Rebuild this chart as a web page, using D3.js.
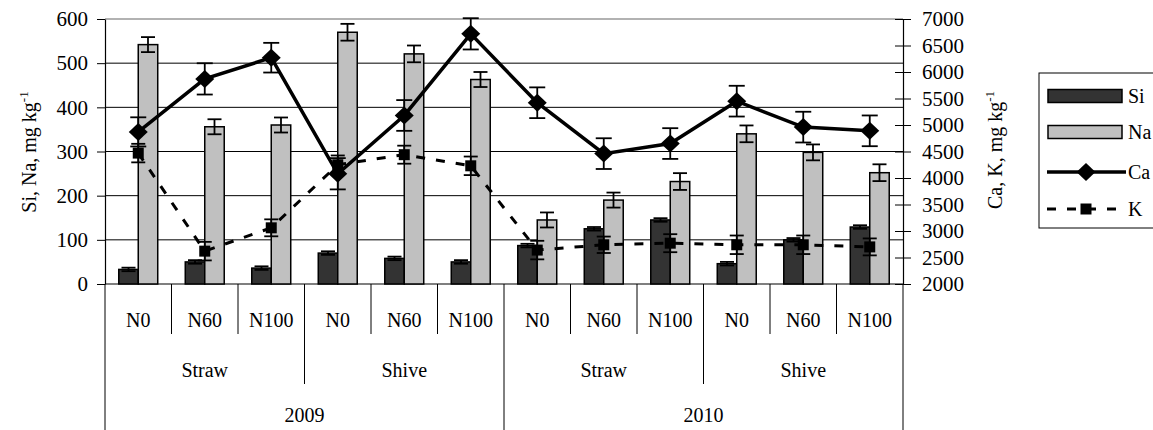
<!DOCTYPE html>
<html><head><meta charset="utf-8">
<script src="https://cdn.jsdelivr.net/npm/d3@7"></script>
<style>
body{margin:0;background:#fff}
svg text{fill:#000}
</style>
</head><body>
<svg id="c" width="1153" height="430"></svg>
<script>
const categories = ["N0","N60","N100","N0","N60","N100","N0","N60","N100","N0","N60","N100"];
const groups = ["Straw","Shive","Straw","Shive"];
const years = ["2009","2010"];
const si    = [33,50,36,70,58,50,87,125,145,46,100,129];
const siErr = [4,4,4,4,4,4,4,4,4,4,4,4];
const na    = [542,356,360,570,521,463,145,190,232,340,298,252];
const naErr = [17,17,17,19,19,17,17,17,19,19,18,19];
const ca    = [4870,5870,6270,4080,5180,6720,5420,4460,4650,5450,4960,4890];
const caErr = [275,295,280,295,290,295,290,290,290,290,290,290];
const k     = [4470,2620,3060,4250,4440,4230,2640,2740,2770,2740,2740,2700];
const kErr  = [175,175,160,175,170,175,175,155,170,175,175,160];
const leftTicks = [0,100,200,300,400,500,600];
const rightTicks = [2000,2500,3000,3500,4000,4500,5000,5500,6000,6500,7000];
const seriesNames = ["Si","Na","Ca","K"];

const FONT = "'Liberation Serif', 'Times New Roman', 'DejaVu Serif', serif";
const svg = d3.select("#c");
const L = 105, R = 903, T = 19, B = 284;
const x = d3.scaleBand().domain(d3.range(categories.length)).range([L,R]).padding(0);
const yL = d3.scaleLinear().domain([0,600]).range([B,T]);
const yR = d3.scaleLinear().domain([2000,7000]).range([B,T]);
const bw = x.bandwidth()*0.293;
const cx = i => x(i)+x.bandwidth()/2;

// gridlines
svg.append("g").selectAll("line").data(leftTicks.filter(v=>v>0&&v<600)).join("line")
  .attr("x1",L).attr("x2",R).attr("y1",d=>yL(d)).attr("y2",d=>yL(d))
  .attr("stroke","#000").attr("stroke-width",1);
svg.append("line").attr("x1",L).attr("x2",R).attr("y1",yL(600)).attr("y2",yL(600))
  .attr("stroke","#999").attr("stroke-width",1.5);

// left axis
const ga = svg.append("g").attr("transform",`translate(${L},0)`)
  .call(d3.axisLeft(yL).tickValues(leftTicks).tickFormat(d3.format("d")).tickSize(8).tickSizeOuter(0).tickPadding(9));
ga.attr("font-family",null).attr("font-size",null);
ga.selectAll("text").style("font-family",FONT).style("font-size","21px");
ga.select(".domain").attr("stroke-width",1.2);

// right axis
const gr = svg.append("g").attr("transform",`translate(${R},0)`)
  .call(d3.axisRight(yR).tickValues(rightTicks).tickFormat(d3.format("d")).tickSize(8).tickSizeOuter(0).tickPadding(11));
gr.attr("font-family",null).attr("font-size",null);
gr.selectAll(".tick line").attr("x1",-8);
gr.selectAll("text").style("font-family",FONT).style("font-size","21px");
gr.select(".domain").attr("stroke-width",1.2);

// bottom axis line
svg.append("line").attr("x1",L).attr("x2",R).attr("y1",B).attr("y2",B).attr("stroke","#000").attr("stroke-width",1.2);

// category dividers
const nCat = categories.length;
const divs = d3.range(nCat+1).map(i=>({i, y2: (i%6===0)?430:(i%3===0?384:334)}));
svg.append("g").selectAll("line").data(divs).join("line")
  .attr("x1",d=>L+d.i*x.bandwidth()).attr("x2",d=>L+d.i*x.bandwidth())
  .attr("y1",B).attr("y2",d=>d.y2).attr("stroke","#000").attr("stroke-width",1);

function lbl(sel){ return sel.attr("text-anchor","middle").attr("dy","0.35em").style("font-family",FONT).style("font-size","20px"); }
lbl(svg.append("g").selectAll("text").data(categories).join("text")
  .attr("x",(d,i)=>cx(i)).attr("y",320)).text(d=>d);
lbl(svg.append("g").selectAll("text").data(groups).join("text")
  .attr("x",(d,i)=>L+(i*3+1.5)*x.bandwidth()).attr("y",370)).text(d=>d);
lbl(svg.append("g").selectAll("text").data(years).join("text")
  .attr("x",(d,i)=>L+(i*6+3)*x.bandwidth()).attr("y",415)).text(d=>d);

// bars
const barG = svg.append("g");
barG.selectAll("rect.si").data(si).join("rect").attr("class","si")
  .attr("x",(d,i)=>cx(i)-bw).attr("width",bw).attr("y",d=>yL(d)).attr("height",d=>B-yL(d))
  .attr("fill","#333").attr("stroke","#000").attr("stroke-width",1.5);
barG.selectAll("rect.na").data(na).join("rect").attr("class","na")
  .attr("x",(d,i)=>cx(i)).attr("width",bw).attr("y",d=>yL(d)).attr("height",d=>B-yL(d))
  .attr("fill","#c0c0c0").attr("stroke","#000").attr("stroke-width",1.5);

function errBars(g, vals, errs, xf, yf, cap){
  const d = vals.map((v,i)=>({v,e:errs[i],i}));
  const gg = g.append("g").attr("stroke","#000").attr("stroke-width",1.8);
  gg.selectAll("line.v").data(d).join("line").attr("class","v")
    .attr("x1",p=>xf(p.i)).attr("x2",p=>xf(p.i)).attr("y1",p=>yf(p.v-p.e)).attr("y2",p=>yf(p.v+p.e));
  gg.selectAll("line.t").data(d).join("line").attr("class","t")
    .attr("x1",p=>xf(p.i)-cap).attr("x2",p=>xf(p.i)+cap).attr("y1",p=>yf(p.v+p.e)).attr("y2",p=>yf(p.v+p.e));
  gg.selectAll("line.b").data(d).join("line").attr("class","b")
    .attr("x1",p=>xf(p.i)-cap).attr("x2",p=>xf(p.i)+cap).attr("y1",p=>yf(p.v-p.e)).attr("y2",p=>yf(p.v-p.e));
}
errBars(svg, si, siErr, i=>cx(i)-bw/2, yL, 7);
errBars(svg, na, naErr, i=>cx(i)+bw/2, yL, 7);

const diamond = "M0,-9L9.5,0L0,9L-9.5,0Z";
const square = "M-5.5,-5.5H5.5V5.5H-5.5Z";

// K line
const lineK = d3.line().x((d,i)=>cx(i)).y(d=>yR(d));
svg.append("path").datum(k).attr("d",lineK).attr("fill","none").attr("stroke","#000")
  .attr("stroke-width",3).attr("stroke-dasharray","9,11");
errBars(svg, k, kErr, cx, yR, 7);
svg.append("g").selectAll("path").data(k).join("path")
  .attr("transform",(d,i)=>`translate(${cx(i)},${yR(d)})`).attr("d",square).attr("fill","#000");

// Ca line
svg.append("path").datum(ca).attr("d",lineK).attr("fill","none").attr("stroke","#000").attr("stroke-width",3.5);
errBars(svg, ca, caErr, cx, yR, 8);
svg.append("g").selectAll("path").data(ca).join("path")
  .attr("transform",(d,i)=>`translate(${cx(i)},${yR(d)})`).attr("d",diamond).attr("fill","#000");

// axis titles
function title(xp, yp, main){
  const t = svg.append("text").attr("transform",`translate(${xp},${yp}) rotate(-90)`).attr("text-anchor","middle")
    .attr("dy","0.35em").style("font-family",FONT).style("font-size","20px");
  t.append("tspan").text(main);
  t.append("tspan").attr("dy","-0.6em").style("font-size","13px").text("-1");
}
title(29,152,"Si, Na, mg kg");
title(995,150,"Ca, K, mg kg");

// legend
const lg = svg.append("g");
lg.append("rect").attr("x",1039).attr("y",73).attr("width",160).attr("height",155)
  .attr("fill","#fff").attr("stroke","#000").attr("stroke-width",1);
const ly = [96,132,172,209];
lg.append("rect").attr("x",1048).attr("y",ly[0]-6.5).attr("width",74).attr("height",13).attr("fill","#333").attr("stroke","#000").attr("stroke-width",1.5);
lg.append("rect").attr("x",1048).attr("y",ly[1]-6.5).attr("width",74).attr("height",13).attr("fill","#c0c0c0").attr("stroke","#000").attr("stroke-width",1.5);
lg.append("line").attr("x1",1047).attr("x2",1126).attr("y1",ly[2]).attr("y2",ly[2]).attr("stroke","#000").attr("stroke-width",3.5);
lg.append("path").attr("transform",`translate(1086,${ly[2]})`).attr("d",diamond).attr("fill","#000");
lg.append("line").attr("x1",1047).attr("x2",1126).attr("y1",ly[3]).attr("y2",ly[3]).attr("stroke","#000").attr("stroke-width",3).attr("stroke-dasharray","9,11");
lg.append("path").attr("transform",`translate(1086,${ly[3]})`).attr("d",square).attr("fill","#000");
lg.selectAll("text").data(seriesNames).join("text").attr("x",1128).attr("y",(d,i)=>ly[i]).attr("dy","0.35em")
  .style("font-family",FONT).style("font-size","20px").text(d=>d);
</script>
</body></html>
